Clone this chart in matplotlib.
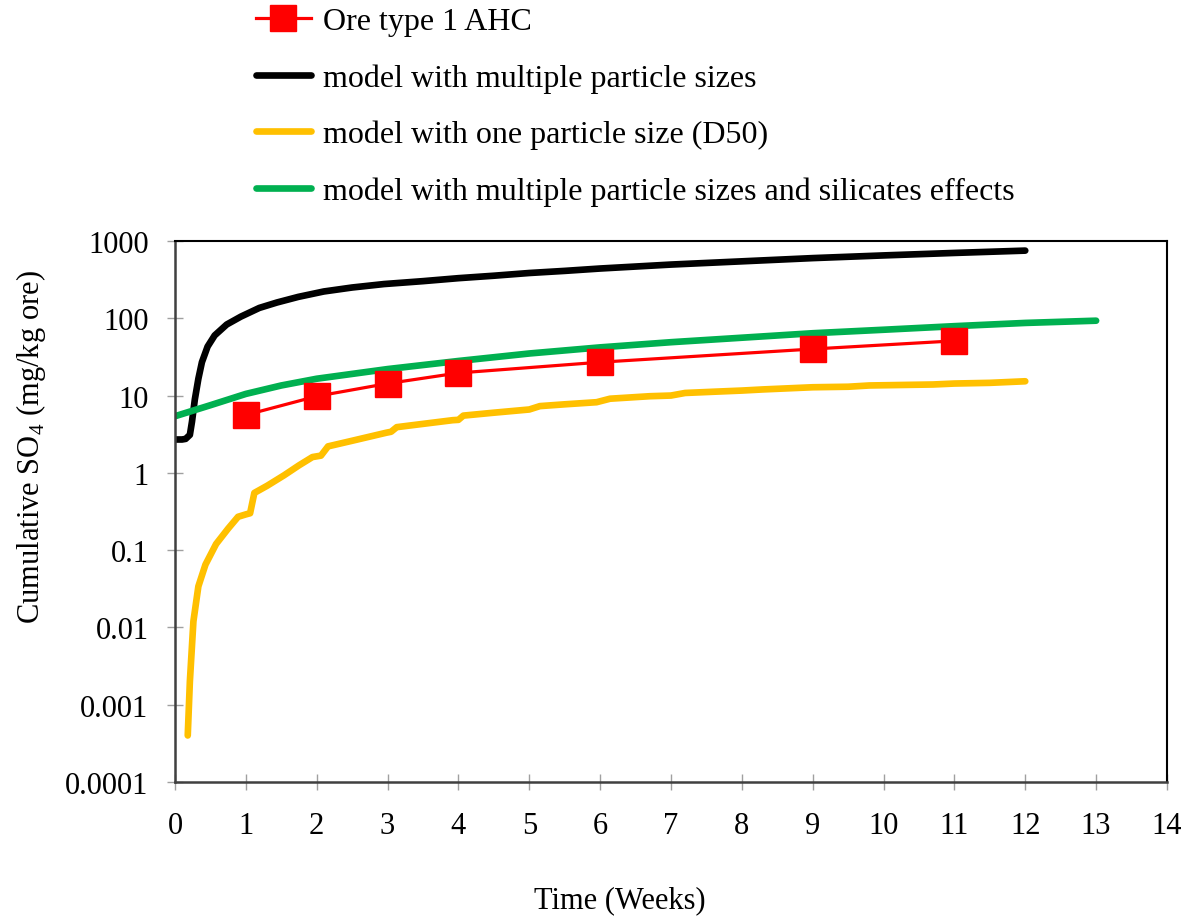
import matplotlib
matplotlib.use("Agg")
import matplotlib.pyplot as plt

plt.rcParams['font.family'] = ['Liberation Serif', 'DejaVu Serif']
plt.rcParams['mathtext.fontset'] = 'custom'
plt.rcParams['mathtext.rm'] = 'Liberation Serif'

# measured data (Ore type 1 AHC)
obs_weeks = [1, 2, 3, 4, 6, 9, 11]
obs_so4 = [5.6, 9.8, 14.3, 19.6, 27, 40, 51]

# model with multiple particle sizes
multi_weeks = [0, 0.1, 0.15, 0.21, 0.24, 0.28, 0.33, 0.38, 0.46, 0.56, 0.73, 0.93, 1.19, 1.44,
               1.74, 2.1, 2.5, 2.95, 3.5, 4, 4.5, 5, 5.5, 6, 7, 8, 9, 10, 11, 12]
multi_so4 = [2.7, 2.7, 2.75, 3.1, 4.6, 8.9, 16.5, 27, 43, 60, 83, 105, 136, 160,
             189, 222, 250, 277, 302, 330, 355, 385, 410, 440, 495, 545, 600, 650, 700, 750]

# model with one particle size (D50)
d50_weeks = [0.18, 0.21, 0.26, 0.33, 0.43, 0.58, 0.75, 0.89, 1.0, 1.06, 1.12, 1.3, 1.54, 1.75,
             1.94, 2.06, 2.16, 2.5, 2.98, 3.05, 3.13, 3.5, 3.92, 4.0, 4.07, 4.5, 5.0, 5.15,
             5.5, 5.95, 6.14, 6.7, 7.0, 7.2, 7.6, 8.0, 8.3, 9.0, 9.5, 9.8, 10.7, 11.0, 11.5, 12.0]
d50_so4 = [0.0004, 0.002, 0.012, 0.034, 0.065, 0.12, 0.19, 0.27, 0.29, 0.30, 0.55, 0.68, 0.93, 1.25,
           1.6, 1.67, 2.2, 2.6, 3.3, 3.4, 3.9, 4.3, 4.8, 4.85, 5.5, 6.0, 6.6, 7.3,
           7.7, 8.2, 9.1, 9.8, 10.0, 10.8, 11.2, 11.6, 12.0, 12.8, 13.0, 13.5, 13.9, 14.3, 14.6, 15.3]

# model with multiple particle sizes and silicates effects
sil_weeks = [0, 0.5, 1, 1.5, 2, 3, 4, 5, 6, 7, 8, 9, 10, 11, 12, 13]
sil_so4 = [5.4, 7.5, 10.5, 13.5, 16.5, 22, 28, 35, 42, 49, 56, 64, 71, 79, 87, 93]

y_ticks = [0.0001, 0.001, 0.01, 0.1, 1, 10, 100, 1000]
y_ticklabels = ['0.0001', '0.001', '0.01', '0.1', '1', '10', '100', '1000']

fs = 22

fig = plt.figure(figsize=(11.88, 9.2), dpi=100)
ax = fig.add_axes([0.1473, 0.1489, 0.835, 0.5881])

ax.plot(obs_weeks, obs_so4, color='#FF0000', lw=2.3, marker='s', ms=19,
        label='Ore type 1 AHC', zorder=5)
ax.plot(multi_weeks, multi_so4, color='black', lw=4.8, solid_capstyle='round',
        solid_joinstyle='round', label='model with multiple particle sizes')
ax.plot(d50_weeks, d50_so4, color='#FFC000', lw=4.8, solid_capstyle='round',
        solid_joinstyle='round', label='model with one particle size (D50)')
ax.plot(sil_weeks, sil_so4, color='#00B050', lw=4.8, solid_capstyle='round',
        solid_joinstyle='round', label='model with multiple particle sizes and silicates effects')

ax.set_yscale('log')
ax.set_ylim(0.0001, 1000)
ax.set_xlim(0, 14)
ax.set_xticks(range(0, 15))
ax.set_yticks(y_ticks)
ax.set_yticklabels(y_ticklabels)
ax.minorticks_off()

for side in ['left', 'bottom']:
    ax.spines[side].set_color('#404040')
    ax.spines[side].set_linewidth(1.8)
for side in ['top', 'right']:
    ax.spines[side].set_color('black')
    ax.spines[side].set_linewidth(1.5)

ax.tick_params(axis='both', direction='inout', length=12, width=1, color='#a0a0a0',
               labelsize=fs)
ax.tick_params(axis='x', pad=15)
ax.tick_params(axis='y', pad=13)

ax.set_xlabel('Time (Weeks)', fontsize=fs)
ax.xaxis.set_label_coords((620 - 175) / 992, -0.19)
ax.set_ylabel('Cumulative SO$_4$ (mg/kg ore)', fontsize=fs)
ax.yaxis.set_label_coords(-0.128, 0.62)

fig.legend(loc='upper left', bbox_to_anchor=(0.2113, 0.9967), frameon=False,
           fontsize=23, handlelength=1.72, handletextpad=0.38, labelspacing=0.85,
           borderaxespad=0.05, borderpad=0.1)

fig.savefig('out.png', dpi=100)
